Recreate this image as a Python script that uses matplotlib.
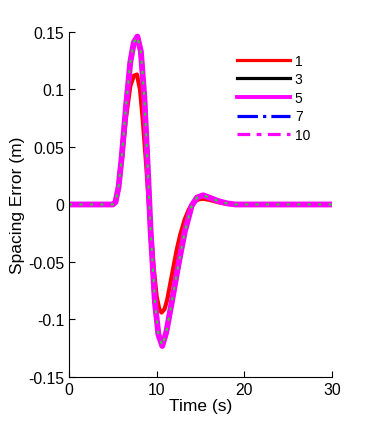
import matplotlib
matplotlib.use("Agg")
import matplotlib.pyplot as plt

plt.rcParams['font.family'] = ['Liberation Sans', 'DejaVu Sans']
plt.rcParams['axes.unicode_minus'] = False

# time samples (s) for vehicle 1 and for the followers
t1 = [0, 5.0, 5.3, 5.6, 6.0, 6.5, 7.0, 7.4, 7.75, 8.1, 8.4, 8.8, 9.2, 9.6, 10.0,
      10.3, 10.56, 10.9, 11.2, 11.55, 11.9, 12.3, 12.7, 13.2, 13.7, 14.2, 14.8,
      15.3, 16, 17, 18, 19, 20, 25, 30]
err1 = [0, 0, 0.002, 0.012, 0.037, 0.075, 0.103, 0.112, 0.113, 0.100, 0.075, 0.035,
        -0.01, -0.05, -0.08, -0.091, -0.094, -0.091, -0.083, -0.069, -0.055, -0.039,
        -0.026, -0.013, -0.004, 0.002, 0.0045, 0.005, 0.004, 0.002, 0.0005, 0, 0, 0, 0]

t_n = [0, 5.0, 5.3, 5.65, 6.0, 6.5, 7.0, 7.4, 7.8, 8.2, 8.6, 9.0, 9.3, 9.8, 10.2,
       10.64, 11.1, 11.8, 12.47, 13.2, 14.0, 14.6, 15.3, 16, 17, 18, 19, 20, 25, 30]
err3 = [0, 0, 0.002, 0.015, 0.04, 0.084, 0.121, 0.137, 0.142, 0.130, 0.091, 0.029,
        -0.021, -0.084, -0.111, -0.121, -0.109, -0.081, -0.052, -0.024, -0.001,
        0.006, 0.008, 0.006, 0.003, 0.001, 0, 0, 0, 0]
err5 = [0, 0, 0.002, 0.015, 0.04, 0.085, 0.124, 0.141, 0.146, 0.133, 0.093, 0.03,
        -0.021, -0.085, -0.113, -0.123, -0.111, -0.082, -0.053, -0.024, -0.001,
        0.006, 0.008, 0.006, 0.003, 0.001, 0, 0, 0, 0]
err7 = [0, 0, 0.002, 0.015, 0.04, 0.084, 0.122, 0.138, 0.143, 0.131, 0.092, 0.029,
        -0.021, -0.084, -0.112, -0.122, -0.110, -0.081, -0.052, -0.024, -0.001,
        0.006, 0.008, 0.006, 0.003, 0.001, 0, 0, 0, 0]
err10 = [0, 0, 0.002, 0.015, 0.04, 0.085, 0.124, 0.141, 0.146, 0.133, 0.093, 0.03,
         -0.021, -0.085, -0.113, -0.123, -0.111, -0.082, -0.053, -0.024, -0.001,
         0.006, 0.008, 0.006, 0.003, 0.001, 0, 0, 0, 0]

labels = ['1', '3', '5', '7', '10']
xticks = [0, 10, 20, 30]
yticks = [-0.15, -0.1, -0.05, 0, 0.05, 0.1, 0.15]
ytick_labels = ['-0.15', '-0.1', '-0.05', '0', '0.05', '0.1', '0.15']

fig = plt.figure(figsize=(3.66, 4.27), dpi=100)
ax = fig.add_axes([0.1885, 0.1148, 0.7185, 0.808])

dashdot = (0, (4, 2, 1.5, 2))
l1, = ax.plot(t1, err1, color='#ff0000', lw=3, label=labels[0])
l3, = ax.plot(t_n, err3, color='black', lw=1.5, label=labels[1])
l7, = ax.plot(t_n, err7, color='#0000ff', lw=1.5, ls='-.', label=labels[3])
l5, = ax.plot(t_n, err5, color='#ff00ff', lw=4.2, label=labels[2])
l10, = ax.plot(t_n, err10, color='#ff00ff', lw=3.5, ls=dashdot, label=labels[4])
ax.plot(t_n, err10, color='#22dd22', lw=1.5, ls=(0, (1.5, 3.5)))

ax.set_xlim(0, 30)
ax.set_ylim(-0.15, 0.15)
ax.set_xticks(xticks)
ax.set_yticks(yticks)
ax.set_yticklabels(ytick_labels)
ax.tick_params(direction='in', length=4, labelsize=11.3, width=0.8)
ax.spines['top'].set_visible(False)
ax.spines['right'].set_visible(False)
ax.set_xlabel('Time (s)', fontsize=12.5, labelpad=1)
ax.set_ylabel('Spacing Error (m)', fontsize=12.5, labelpad=2)

leg = fig.legend(handles=[l1, l3, l5, l7, l10], loc='upper left',
                 bbox_to_anchor=(0.648, 0.872), frameon=False, fontsize=10,
                 handlelength=3.8, handletextpad=0.35, labelspacing=0.33,
                 borderpad=0, borderaxespad=0)
leg_widths = [2.3, 2.3, 2.8, 2.3, 2.3]
for line, w in zip(leg.get_lines(), leg_widths):
    line.set_linewidth(w)

fig.savefig('out.png', dpi=100)
